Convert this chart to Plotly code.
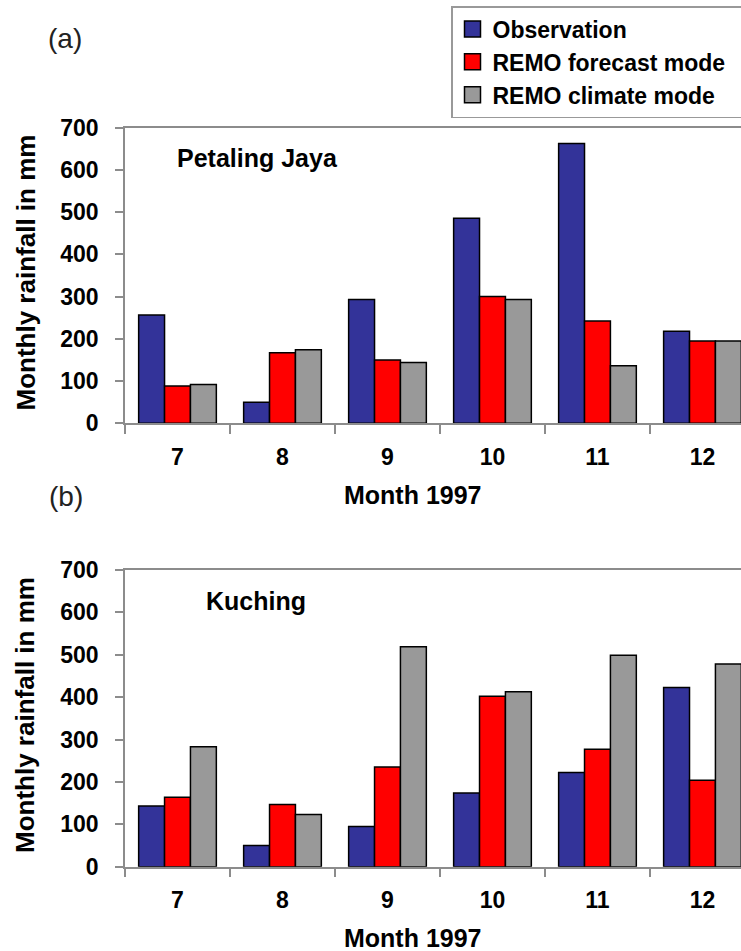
import plotly.graph_objects as go

months = ["7", "8", "9", "10", "11", "12"]
series_names = ["Observation", "REMO forecast mode", "REMO climate mode"]
series_colors = ["#333399", "#FF0000", "#999999"]

pj_obs = [256, 50, 293, 485, 662, 218]
pj_forecast = [88, 167, 150, 300, 242, 195]
pj_climate = [92, 174, 144, 293, 136, 195]

ku_obs = [143, 50, 95, 174, 222, 423]
ku_forecast = [164, 147, 235, 402, 277, 204]
ku_climate = [283, 123, 519, 413, 499, 478]

y_ticks = [0, 100, 200, 300, 400, 500, 600, 700]

W, H = 741, 951
FONT = "Liberation Sans, Arial, sans-serif"
AXC = "#8c8c8c"

fig = go.Figure()

panels = [
    ("x", "y", [pj_obs, pj_forecast, pj_climate]),
    ("x2", "y2", [ku_obs, ku_forecast, ku_climate]),
]
for xa, ya, vals in panels:
    for name, color, v in zip(series_names, series_colors, vals):
        fig.add_trace(go.Bar(
            x=months, y=v, name=name, xaxis=xa, yaxis=ya, legendgroup=name,
            marker=dict(color=color, line=dict(color="black", width=1.5)),
            showlegend=False,
        ))

# legend-only entries (larger square swatches, like the original legend)
pad = "\u00a0" * 2
for name, color in zip(series_names, series_colors):
    fig.add_trace(go.Scatter(
        x=[None], y=[None], mode="markers", name=name + pad, legendgroup=name,
        marker=dict(symbol="square", size=16, color=color, line=dict(color="black", width=1.5)),
        showlegend=True, hoverinfo="skip",
    ))

def ax_x(anchor):
    return dict(
        type="category", domain=[125 / W, 1], range=[-0.5, 5.367],
        showline=True, linecolor=AXC, linewidth=1.5, mirror=True,
        ticks="outside", tickson="boundaries", ticklen=9, tickcolor=AXC, tickwidth=1.5,
        tickfont=dict(family=FONT, size=23, color="black", weight="bold"),
        showgrid=False, zeroline=False, fixedrange=True, anchor=anchor,
        ticklabelstandoff=12,
    )

def ax_y(domain, anchor):
    return dict(
        domain=domain, range=[0, 700], tickvals=y_ticks,
        showline=True, linecolor=AXC, linewidth=1.5,
        ticks="outside", ticklen=8, tickcolor=AXC, tickwidth=1.5,
        tickfont=dict(family=FONT, size=23, color="black", weight="bold"),
        showgrid=False, zeroline=False, anchor=anchor, ticklabelstandoff=12,
    )

fig.update_layout(
    width=W, height=H,
    margin=dict(l=0, r=0, t=0, b=0, autoexpand=False),
    paper_bgcolor="white", plot_bgcolor="white",
    barmode="group", bargap=0.26, bargroupgap=0,
    xaxis=ax_x("y"),
    yaxis=ax_y([1 - 423.3 / H, 1 - 127.5 / H], "x"),
    xaxis2=ax_x("y2"),
    yaxis2=ax_y([1 - 866.7 / H, 1 - 570 / H], "x2"),
    legend=dict(
        x=451 / W, y=1 - 6 / H, xanchor="left", yanchor="top",
        bordercolor="#999999", borderwidth=1.5, bgcolor="white",
        font=dict(family=FONT, size=23, color="black", weight="bold"),
        traceorder="normal", itemsizing="trace", itemclick=False, itemdoubleclick=False,
    ),
    showlegend=True,
)

def ann(text, x, y, size, bold=True, angle=0, color="black"):
    fig.add_annotation(
        text=text, x=x / W, y=1 - y / H, xref="paper", yref="paper",
        xanchor="center", yanchor="middle", showarrow=False, textangle=angle,
        font=dict(family=FONT, size=size, color=color, weight="bold" if bold else "normal"),
    )

ann("(a)", 65, 39, 28, bold=False, color="#222222")
ann("(b)", 66, 496, 28, bold=False, color="#222222")
ann("Petaling Jaya", 257, 158, 25)
ann("Kuching", 256, 601, 25)
ann("Monthly rainfall in mm", 25, 272.5, 26, angle=-90)
ann("Monthly rainfall in mm", 25, 715, 26, angle=-90)
ann("Month 1997", 413, 495, 25)
ann("Month 1997", 413, 938, 25)

fig.write_html(
    "out.html",
    config={"displayModeBar": False},
    post_script="document.body.style.margin='0';document.body.style.overflow='hidden';",
)
